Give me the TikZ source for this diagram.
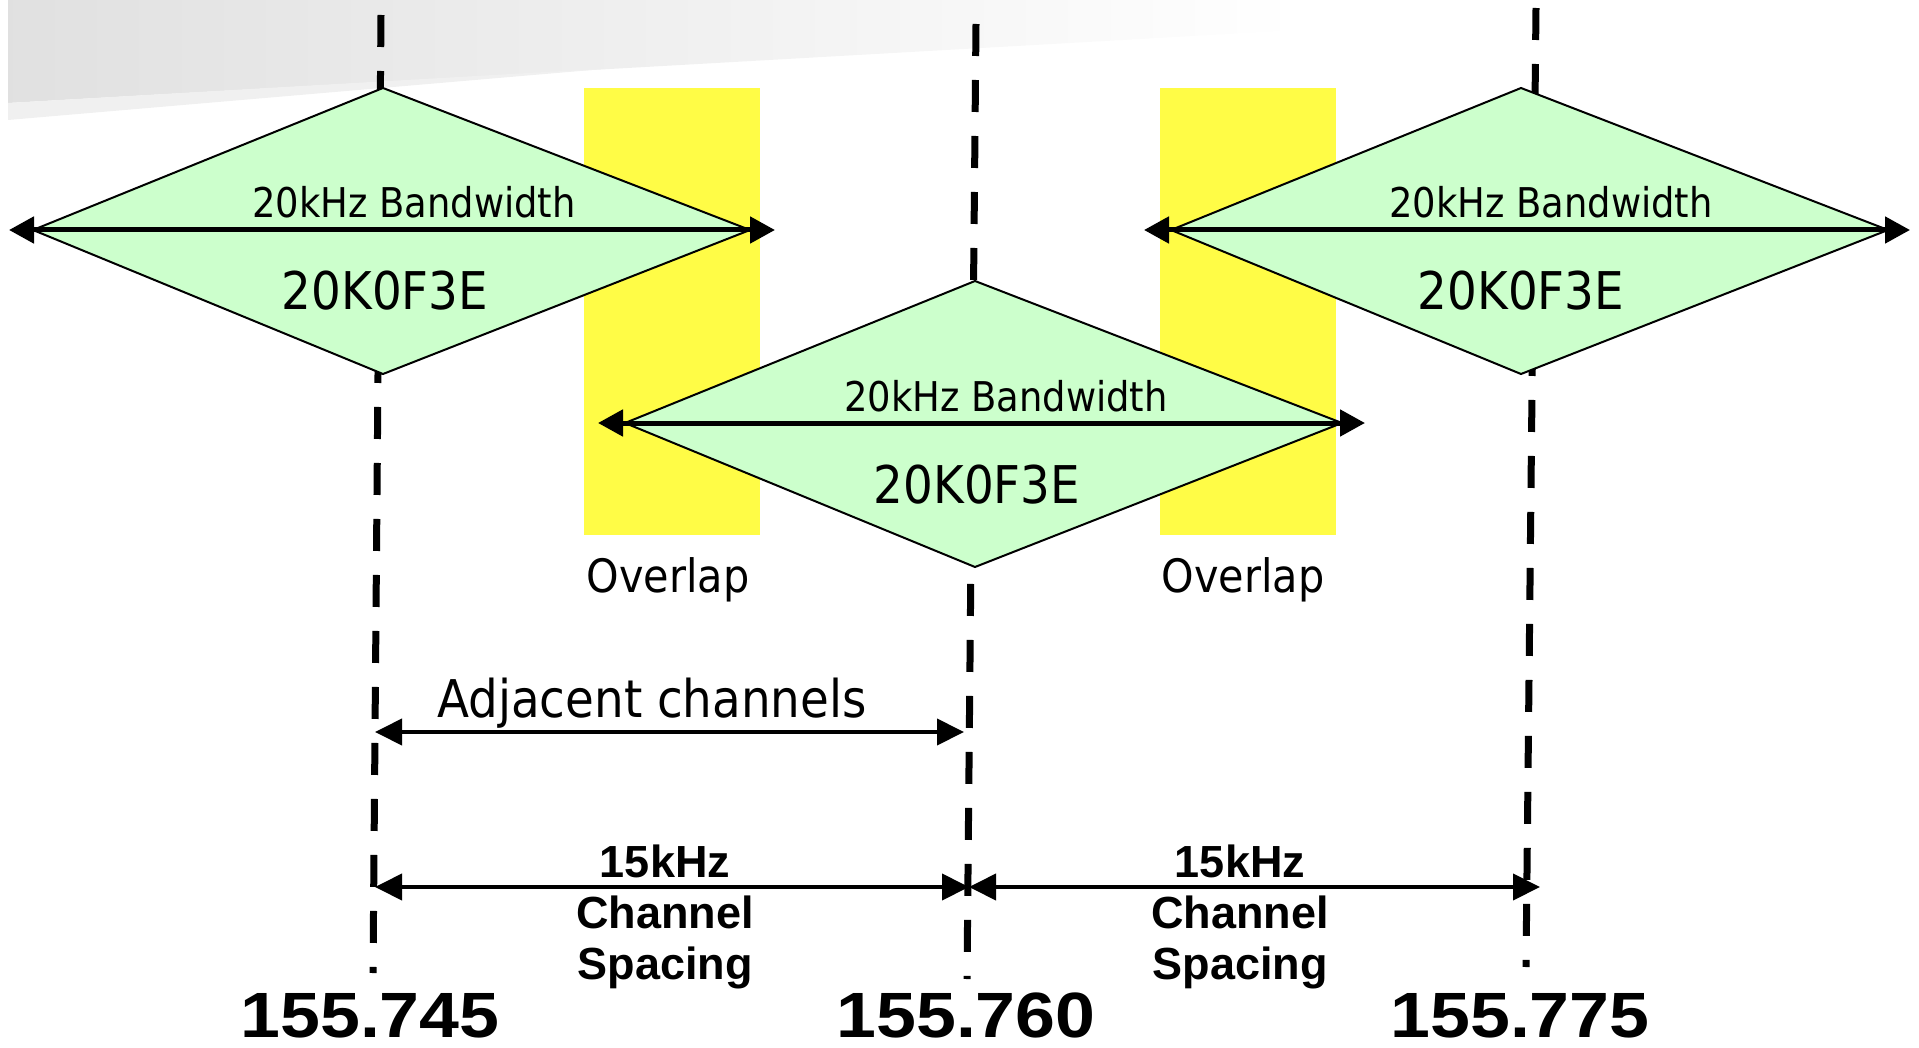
\documentclass[tikz,border=0pt]{standalone}
\usepackage{fontspec}
\usetikzlibrary{arrows.meta}

\newfontfamily\bwfont[FakeStretch=0.9]{DejaVu Sans}
\newfontfamily\spfont{Liberation Sans}
\newfontfamily\freqfont[FakeStretch=1.12]{Liberation Sans}

\definecolor{bandgreen}{RGB}{204,255,204}
\definecolor{overlapyellow}{RGB}{255,252,70}

\begin{document}
\begin{tikzpicture}[x=1pt, y=-1pt,
	band/.style={fill=bandgreen, draw=black, line width=2pt},
	chanline/.style={line width=7pt, dash pattern=on 32pt off 24pt},
	bwarrow/.style={line width=5pt, {Triangle[length=25pt,width=26pt]}-{Triangle[length=25pt,width=26pt]}},
	dimarrow/.style={line width=4pt, {Triangle[length=27pt,width=26pt]}-{Triangle[length=27pt,width=26pt]}},
	bwtext/.style={font=\bwfont\fontsize{41}{48}\selectfont, inner sep=0pt, anchor=base},
	codetext/.style={font=\bwfont\fontsize{52}{60}\selectfont, inner sep=0pt, anchor=base},
	sptext/.style={font=\spfont\bfseries\fontsize{45}{51}\selectfont, inner sep=0pt, anchor=north, align=center},
	freqtext/.style={font=\freqfont\bfseries\fontsize{64}{70}\selectfont, inner sep=0pt, anchor=base}]

	\useasboundingbox (0,0) rectangle (1919,1048);

	\shade[left color=black!12, right color=white] (8,0) -- (1300,0) -- (1300,30) -- (8,103) -- cycle;
	\fill[black!6] (8,103) -- (615,68) -- (8,120) -- cycle;

	\fill[overlapyellow] (584,88) rectangle (760,535);
	\fill[overlapyellow] (1160,88) rectangle (1336,535);

	\coordinate (l1t) at (381,15);
	\coordinate (l1b) at (373,973);
	\coordinate (l2t) at (976,24);
	\coordinate (l2b) at (967,979);
	\coordinate (l3t) at (1536,8);
	\coordinate (l3b) at (1526,967);

	\draw[chanline] (l1t) -- (l1b);
	\draw[chanline] (l2t) -- (l2b);
	\draw[chanline] (l3t) -- (l3b);

	\coordinate (d1t) at (383,88);
	\coordinate (d1r) at (750,230);
	\coordinate (d1b) at (383,374);
	\coordinate (d1l) at (33,230);
	\coordinate (d2t) at (975,281);
	\coordinate (d2r) at (1342,423);
	\coordinate (d2b) at (975,567);
	\coordinate (d2l) at (625,423);
	\coordinate (d3t) at (1521,88);
	\coordinate (d3r) at (1888,230);
	\coordinate (d3b) at (1521,374);
	\coordinate (d3l) at (1171,230);

	\draw[band] (d1t) -- (d1r) -- (d1b) -- (d1l) -- cycle;
	\draw[band] (d2t) -- (d2r) -- (d2b) -- (d2l) -- cycle;
	\draw[band] (d3t) -- (d3r) -- (d3b) -- (d3l) -- cycle;

	\coordinate (bw1l) at (9,230);
	\coordinate (bw1r) at (775,230);
	\coordinate (bw2l) at (598,423);
	\coordinate (bw2r) at (1365,423);
	\coordinate (bw3l) at (1144,230);
	\coordinate (bw3r) at (1910,230);

	\draw[bwarrow] (bw1l) -- (bw1r);
	\draw[bwarrow] (bw2l) -- (bw2r);
	\draw[bwarrow] (bw3l) -- (bw3r);

	\node[bwtext] (bw1) at (414,218) {20kHz Bandwidth};
	\node[bwtext] (bw2) at (1006,411) {20kHz Bandwidth};
	\node[bwtext] (bw3) at (1551,218) {20kHz Bandwidth};

	\node[codetext] (code1) at (385,310) {20K0F3E};
	\node[codetext] (code2) at (977,503) {20K0F3E};
	\node[codetext] (code3) at (1521,310) {20K0F3E};

	\node[bwtext, font=\bwfont\fontsize{46}{54}\selectfont] (overlap1) at (668,592) {Overlap};
	\node[bwtext, font=\bwfont\fontsize{46}{54}\selectfont] (overlap2) at (1243,592) {Overlap};

	\node[codetext] (adj) at (652,717) {Adjacent channels};

	\coordinate (a1) at (375,732);
	\coordinate (a2) at (964,732);
	\draw[dimarrow] (a1) -- (a2);

	\coordinate (s1) at (375,887);
	\coordinate (s2) at (969,887);
	\coordinate (s3) at (1540,887);
	\draw[dimarrow] (s1) -- (s2);
	\draw[dimarrow] (s2) -- (s3);

	\node[sptext] (sp1) at (665,845) {15kHz\\Channel\\Spacing};
	\node[sptext] (sp2) at (1240,845) {15kHz\\Channel\\Spacing};

	\node[freqtext] (f745) at (370,1037) {155.745};
	\node[freqtext] (f760) at (966,1037) {155.760};
	\node[freqtext] (f775) at (1520,1037) {155.775};

\end{tikzpicture}
\end{document}
